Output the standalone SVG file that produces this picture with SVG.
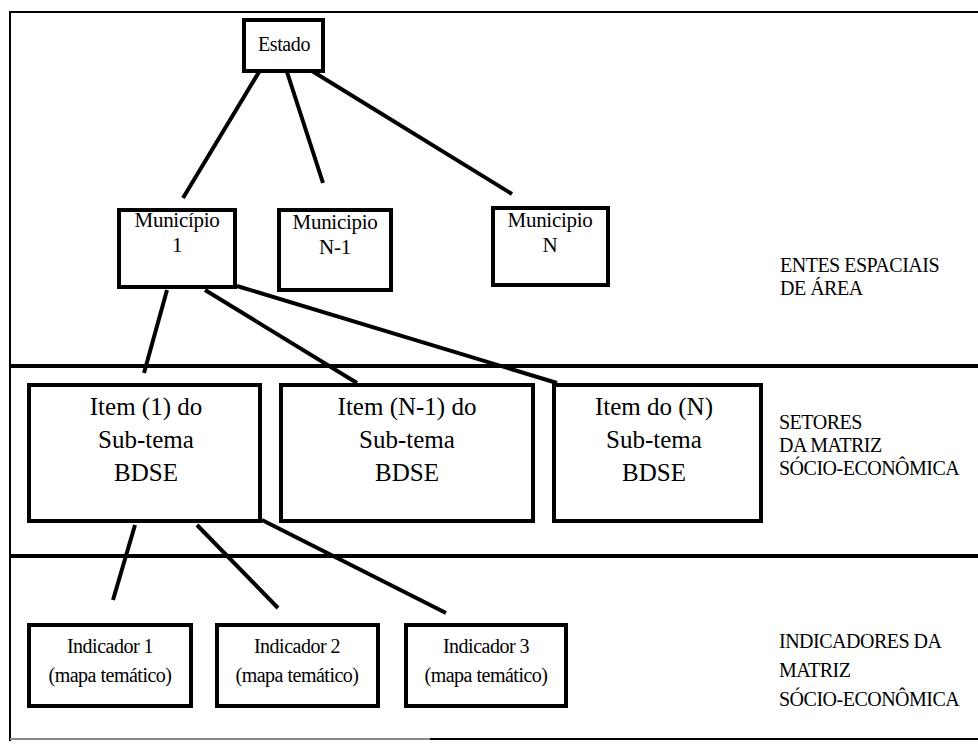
<svg xmlns="http://www.w3.org/2000/svg" width="978" height="744" viewBox="0 0 978 744">
  <style>
    .box { fill: #fff; stroke: #000; stroke-width: 4; }
    .sep { stroke: #000; stroke-width: 4; }
    .frame { stroke: #000; stroke-width: 2; fill: none; }
    .link { stroke: #000; stroke-width: 4; stroke-linecap: butt; }
    text { font-family: "Liberation Serif", "Times New Roman", serif; fill: #000; }
    .c { text-anchor: middle; }
    .sm { font-size: 20px; letter-spacing: -0.4px; }
    .mu { font-size: 21px; letter-spacing: -0.3px; }
    .md { font-size: 20px; letter-spacing: -0.5px; }
    .lg { font-size: 25px; }
    .lbl { font-size: 20px; letter-spacing: -0.5px; }
  </style>
  <rect width="978" height="744" fill="#fff"/>

  <!-- outer frame and band separators -->
  <g id="frame">
    <line class="frame" x1="10" y1="12" x2="978" y2="12"/>
    <line class="frame" x1="10" y1="11" x2="10" y2="741"/>
    <line x1="10" y1="739" x2="430" y2="739" stroke="#888" stroke-width="2"/>
    <line x1="430" y1="739" x2="978" y2="739" stroke="#000" stroke-width="2"/>
    <line class="sep" x1="10" y1="366" x2="978" y2="366"/>
    <line class="sep" x1="10" y1="556" x2="978" y2="556"/>
  </g>

  <!-- connectors -->
  <g id="connectors">
    <line class="link" x1="259" y1="72" x2="183" y2="198"/>
    <line class="link" x1="287" y1="72" x2="323" y2="183"/>
    <line class="link" x1="312" y1="71" x2="512" y2="194"/>
    <line class="link" x1="167" y1="290" x2="144" y2="373"/>
    <line class="link" x1="205" y1="290" x2="357" y2="383"/>
    <line class="link" x1="237" y1="286" x2="557" y2="383"/>
    <line class="link" x1="135" y1="525" x2="113" y2="600"/>
    <line class="link" x1="197" y1="525" x2="278" y2="608"/>
    <line class="link" x1="262" y1="520" x2="446" y2="613"/>
  </g>

  <g id="estado">
    <rect class="box" x="244" y="20" width="79" height="51"/>
    <text class="sm c" x="284" y="51">Estado</text>
  </g>

  <g id="municipio-1">
    <rect class="box" x="119" y="210" width="116" height="77"/>
    <text class="mu c" x="177" y="227">Município</text>
    <text class="mu c" x="177" y="252">1</text>
  </g>
  <g id="municipio-n-1">
    <rect class="box" x="279" y="210" width="112" height="80"/>
    <text class="mu c" x="335" y="229">Municipio</text>
    <text class="mu c" x="335" y="254">N-1</text>
  </g>
  <g id="municipio-n">
    <rect class="box" x="493" y="208" width="115" height="77"/>
    <text class="mu c" x="550" y="227">Municipio</text>
    <text class="mu c" x="550" y="252">N</text>
  </g>

  <g id="item-1">
    <rect class="box" x="29" y="385" width="231" height="136"/>
    <text class="lg c" x="146" y="415">Item (1) do</text>
    <text class="lg c" x="146" y="448">Sub-tema</text>
    <text class="lg c" x="146" y="481">BDSE</text>
  </g>
  <g id="item-n-1">
    <rect class="box" x="281" y="385" width="252" height="136"/>
    <text class="lg c" x="407" y="415">Item (N-1) do</text>
    <text class="lg c" x="407" y="448">Sub-tema</text>
    <text class="lg c" x="407" y="481">BDSE</text>
  </g>
  <g id="item-n">
    <rect class="box" x="554" y="385" width="207" height="136"/>
    <text class="lg c" x="654" y="415">Item do (N)</text>
    <text class="lg c" x="654" y="448">Sub-tema</text>
    <text class="lg c" x="654" y="481">BDSE</text>
  </g>

  <g id="indicador-1">
    <rect class="box" x="29" y="625" width="162" height="81"/>
    <text class="md c" x="110" y="653">Indicador 1</text>
    <text class="md c" x="110" y="682">(mapa temático)</text>
  </g>
  <g id="indicador-2">
    <rect class="box" x="217" y="625" width="161" height="81"/>
    <text class="md c" x="297" y="653">Indicador 2</text>
    <text class="md c" x="297" y="682">(mapa temático)</text>
  </g>
  <g id="indicador-3">
    <rect class="box" x="406" y="625" width="160" height="81"/>
    <text class="md c" x="486" y="653">Indicador 3</text>
    <text class="md c" x="486" y="682">(mapa temático)</text>
  </g>

  <!-- band labels -->
  <g id="band-labels">
    <text class="lbl" x="780" y="272">ENTES ESPACIAIS</text>
    <text class="lbl" x="780" y="295">DE ÁREA</text>
    <text class="lbl" x="779" y="429">SETORES</text>
    <text class="lbl" x="779" y="452">DA MATRIZ</text>
    <text class="lbl" x="779" y="475">SÓCIO-ECONÔMICA</text>
    <text class="lbl" x="779" y="648">INDICADORES DA</text>
    <text class="lbl" x="779" y="677">MATRIZ</text>
    <text class="lbl" x="779" y="706">SÓCIO-ECONÔMICA</text>
  </g>
</svg>
